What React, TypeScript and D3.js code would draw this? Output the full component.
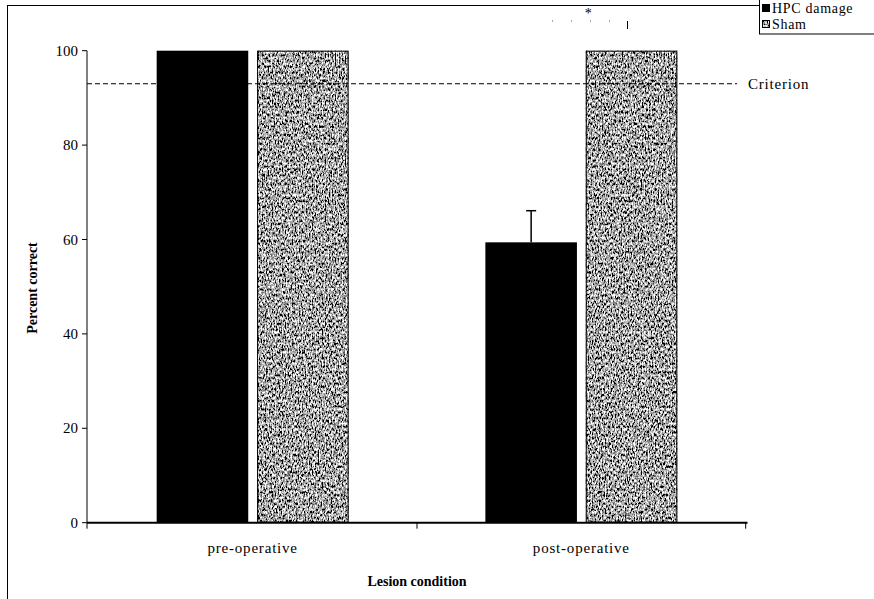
import React from "react";
import * as d3 from "d3";

const categories = ["pre-operative", "post-operative"];
const seriesNames = ["HPC damage", "Sham"];
const hpcValues = [100, 59.4];
const shamValues = [100, 100];
const hpcErrors = [0, 6.7];
const shamErrors = [0, 0];
const yTicks = [0, 20, 40, 60, 80, 100];
const criterionValue = 93;

const W = 874;
const H = 599;
const FONT = "Liberation Serif, Times New Roman, serif";

export default function App() {
  const x0 = d3.scaleBand<string>().domain(categories).range([87, 747]).paddingInner(0.416).paddingOuter(0.212);
  const x1 = d3.scaleBand<string>().domain(seriesNames).range([0, x0.bandwidth()]).paddingInner(0.088).paddingOuter(0);
  const y = d3.scaleLinear().domain([0, 100]).range([522.7, 50.7]);

  const rows = categories.map((c, i) => ({
    cat: c,
    bars: [
      { s: seriesNames[0], v: hpcValues[i], e: hpcErrors[i] },
      { s: seriesNames[1], v: shamValues[i], e: shamErrors[i] },
    ],
  }));

  const boundaries = [87, ...categories.map((c) => (x0(c) as number) + x0.bandwidth() + (x0.step() - x0.bandwidth()) / 2)];
  const postCenter = (x0("post-operative") as number) + x0.bandwidth() / 2;
  const tf = "0 0 0 0 0 0 0 0.08 0.18 0.32 0.46 0.6 0.78 1 1 1 1 1 1 1";

  return (
    <svg width={W} height={H} style={{ position: "absolute", left: 0, top: 0, background: "#fff", fontFamily: FONT }}>
      <defs>
        <filter id="noise" x="0" y="0" width="100%" height="100%" filterUnits="objectBoundingBox">
          <feTurbulence type="fractalNoise" baseFrequency="0.7 0.35" numOctaves="4" seed="11" result="t" />
          <feColorMatrix in="t" type="matrix" values="1 0 0 0 0  1 0 0 0 0  1 0 0 0 0  0 0 0 0 1" result="g" />
          <feComponentTransfer in="g" result="d">
            <feFuncR type="discrete" tableValues={tf} />
            <feFuncG type="discrete" tableValues={tf} />
            <feFuncB type="discrete" tableValues={tf} />
          </feComponentTransfer>
          <feComposite in="d" in2="SourceGraphic" operator="in" />
        </filter>
      </defs>

      {/* outer frame */}
      <line x1={7} y1={5.5} x2={759} y2={5.5} stroke="#000" strokeWidth={1.2} />
      <line x1={7.5} y1={5} x2={7.5} y2={H} stroke="#000" strokeWidth={1} />

      {/* bars */}
      {rows.map((r) => (
        <g key={r.cat} transform={`translate(${x0(r.cat)},0)`}>
          {r.bars.map((b, j) =>
            j === 0 ? (
              <rect key={b.s} x={x1(b.s)} y={y(b.v)} width={x1.bandwidth()} height={y(0) - y(b.v)} fill="#000" />
            ) : (
              <g key={b.s}>
                <rect x={x1(b.s)} y={y(b.v)} width={x1.bandwidth()} height={y(0) - y(b.v)} fill="#777" filter="url(#noise)" />
                <rect x={(x1(b.s) as number) + 0.5} y={y(b.v) + 0.5} width={x1.bandwidth() - 1} height={y(0) - y(b.v) - 1} fill="none" stroke="#000" strokeWidth={1} />
              </g>
            )
          )}
          {r.bars.map((b) =>
            b.e > 0 ? (
              <g key={b.s + "e"} stroke="#000" strokeWidth={1.5}>
                <line x1={(x1(b.s) as number) + x1.bandwidth() / 2} x2={(x1(b.s) as number) + x1.bandwidth() / 2} y1={y(b.v)} y2={y(b.v + b.e)} />
                <line x1={(x1(b.s) as number) + x1.bandwidth() / 2 - 5} x2={(x1(b.s) as number) + x1.bandwidth() / 2 + 5} y1={y(b.v + b.e)} y2={y(b.v + b.e)} />
              </g>
            ) : null
          )}
        </g>
      ))}

      {/* criterion line */}
      <line x1={87} x2={737} y1={y(criterionValue)} y2={y(criterionValue)} stroke="#000" strokeWidth={1} strokeDasharray="5,3" />
      <text x={748} y={y(criterionValue) + 5} fontSize={15} letterSpacing={0.8} fill="#000">Criterion</text>

      {/* y axis */}
      <line x1={87} x2={87} y1={y(100)} y2={y(0)} stroke="#000" strokeWidth={1} />
      {yTicks.map((t) => (
        <g key={t}>
          <line x1={82} x2={87} y1={y(t)} y2={y(t)} stroke="#000" strokeWidth={1} />
          <text x={78} y={y(t) + 5} fontSize={15} textAnchor="end" fill="#000">{t}</text>
        </g>
      ))}

      {/* x axis */}
      <line x1={87} x2={747.5} y1={y(0)} y2={y(0)} stroke="#000" strokeWidth={2} />
      {boundaries.map((bx, i) => (
        <line key={i} x1={bx} x2={bx} y1={y(0)} y2={y(0) + 6} stroke="#000" strokeWidth={1} />
      ))}
      {categories.map((c) => (
        <text key={c} x={(x0(c) as number) + x0.bandwidth() / 2} y={553} fontSize={15} letterSpacing={0.8} textAnchor="middle" fill="#000">{c}</text>
      ))}

      {/* axis titles */}
      <text x={417} y={586} fontSize={14} fontWeight="bold" textAnchor="middle" fill="#000">Lesion condition</text>
      <text transform={`translate(37,288) rotate(-90)`} fontSize={14} fontWeight="bold" textAnchor="middle" fill="#000">Percent correct</text>

      {/* significance marker */}
      <text x={postCenter + 7} y={18} fontSize={14} textAnchor="middle" fill="#000">*</text>
      <line x1={552} x2={627} y1={21} y2={21} stroke="#555" strokeWidth={1} strokeDasharray="1,18" />
      <line x1={627.5} x2={627.5} y1={21} y2={29} stroke="#000" strokeWidth={1} />

      {/* legend */}
      <rect x={759.5} y={-1} width={120} height={35} fill="#fff" stroke="#000" strokeWidth={1} />
      <rect x={762} y={4} width={8} height={8} fill="#000" />
      <text x={772} y={12.5} fontSize={14} letterSpacing={0.7} fill="#000">{seriesNames[0]}</text>
      <rect x={762} y={20} width={8} height={8} fill="#777" filter="url(#noise)" />
      <rect x={762.5} y={20.5} width={7} height={7} fill="none" stroke="#000" strokeWidth={1} />
      <text x={772} y={28.5} fontSize={14} letterSpacing={0.7} fill="#000">{seriesNames[1]}</text>
    </svg>
  );
}
